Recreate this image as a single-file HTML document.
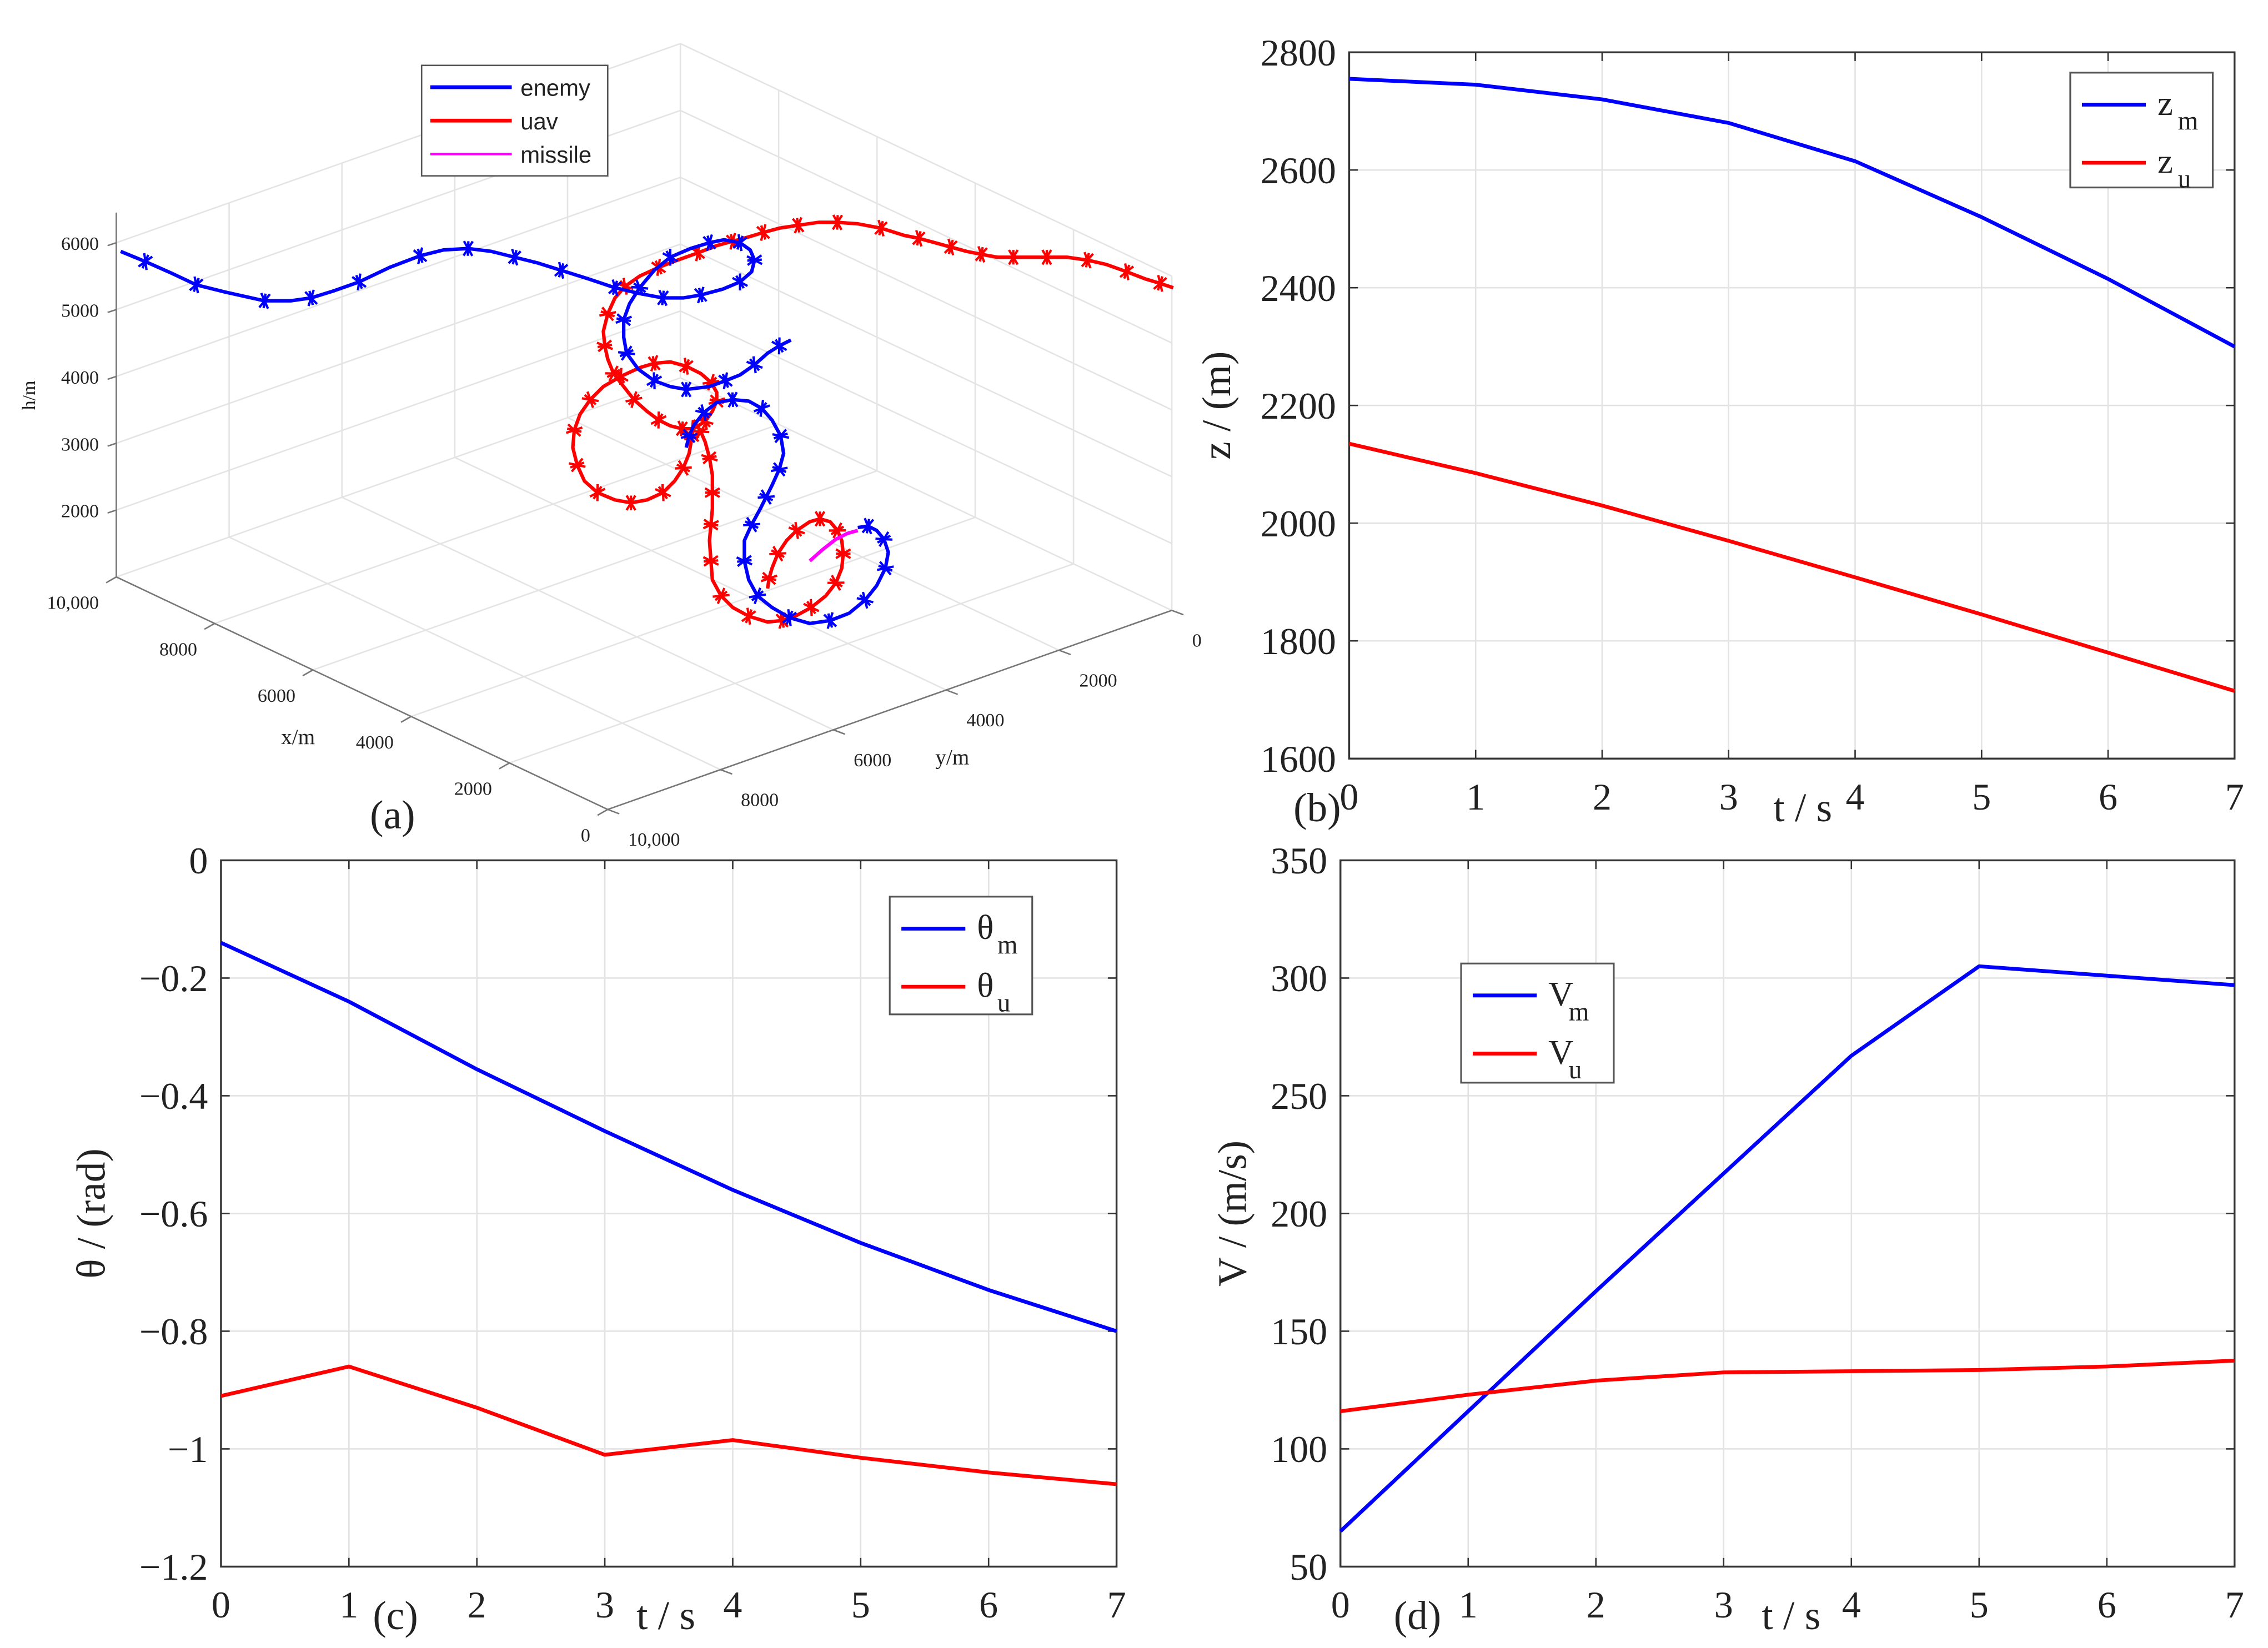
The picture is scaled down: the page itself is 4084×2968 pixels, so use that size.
<!DOCTYPE html>
<html><head><meta charset="utf-8">
<style>
html,body{margin:0;padding:0;background:#fff;}
svg{display:block;}
text{font-family:"Liberation Serif","DejaVu Serif",serif;fill:#222;}
.sans{font-family:"Liberation Sans","DejaVu Sans",sans-serif;}
</style></head>
<body>
<svg id="fig" xmlns="http://www.w3.org/2000/svg" width="4084" height="2968" viewBox="0 0 1560 1134" preserveAspectRatio="none">
<rect x="0" y="0" width="1560" height="1134" fill="#fff"/>
<g id="panelA"></g>
<g id="panelB"></g>
<g id="panelC"></g>
<g id="panelD"></g>
</svg>
<script>
// ---------- 2D chart data ----------
const timeSteps = [0,1,2,3,4,5,6,7];
const zmValues = [2755,2745,2720,2680,2615,2520,2415,2300];
const zuValues = [2135,2085,2030,1970,1908,1845,1780,1715];
const zTicks = [1600,1800,2000,2200,2400,2600,2800];
const thetaMValues = [-0.14,-0.24,-0.355,-0.46,-0.56,-0.65,-0.73,-0.80];
const thetaUValues = [-0.91,-0.86,-0.93,-1.01,-0.985,-1.015,-1.04,-1.06];
const thetaTicks = [-1.2,-1,-0.8,-0.6,-0.4,-0.2,0];
const thetaTickLabels = ["\u22121.2","\u22121","\u22120.8","\u22120.6","\u22120.4","\u22120.2","0"];
const vmValues = [65,116,167,217,267,305,301,297];
const vuValues = [116,123,129,132.5,133,133.5,135,137.5];
const vTicks = [50,100,150,200,250,300,350];
const tTicks = [0,1,2,3,4,5,6,7];

// ---------- 3D panel data (projected view coordinates) ----------
const enemyPathA = [[83,173],[100,180],[118,188],[135,196],[155,201],[182,207],[200,207],[214,205],[230,200],[247,194],[268,184],[289,176],[305,172],[322,171],[338,173],[354,177],[370,181],[386,186],[405,192],[423,198],[440,202],[456,205],[470,205],[482,203],[497,199],[509,194],[517,187],[519,179],[516,172],[509,167],[498,165],[488,167],[475,171],[461,177],[450,186],[440,198],[433,209],[429,220],[429,232],[431,243],[439,254],[450,262],[461,266],[472,268],[488,266],[499,262],[509,258],[519,251],[528,243],[536,238],[544,234]];
const enemyPathB = [[472,308],[474,300],[477,293],[484,284],[493,277],[504,275],[515,276],[524,281],[531,289],[537,300],[539,312],[536,323],[531,334],[527,342],[523,350],[517,361],[512,372],[512,386],[515,399],[521,410],[531,418],[543,425],[557,429],[571,427],[584,422],[595,413],[603,403],[609,391],[611,380],[608,371],[603,365],[597,362],[590,363]];
const uavPathA = [[807,198],[798,195],[788,192],[775,187],[761,182],[748,179],[734,177],[720,177],[708,177],[697,177],[686,177],[675,175],[665,173],[654,170],[643,167],[632,164],[622,162],[606,157],[590,154],[576,153],[563,153],[549,155],[536,157],[525,160],[515,163],[504,166],[493,169],[480,174],[466,179],[453,184],[440,190],[430,197],[423,205],[418,216],[415,228],[416,238],[418,247],[422,257],[429,266],[436,275],[445,283],[453,289],[461,293],[469,295],[477,295],[485,290],[490,283],[493,276],[493,270],[489,263],[482,257],[472,252],[461,249],[450,250],[440,253],[427,259],[415,266],[406,275],[399,285],[395,296],[394,308],[397,320],[402,331],[411,339],[423,344],[434,346],[445,344],[456,339],[464,331],[470,322],[474,312],[476,300],[477,289]];
const uavPathB = [[477,289],[482,297],[485,304],[488,315],[490,327],[490,339],[490,350],[489,361],[488,372],[489,386],[490,399],[496,410],[504,418],[515,424],[528,428],[538,427],[547,424],[558,418],[568,410],[575,401],[579,391],[580,381],[579,372],[576,365],[571,359],[564,357],[557,359],[548,365],[541,372],[535,381],[531,391],[529,398],[528,405]];
const missilePath = [[557,386],[566,378],[575,371],[583,367],[590,365]];
const hTicks = [2000,3000,4000,5000,6000];
const xTicks3 = [0,2000,4000,6000,8000,10000];
const yTicks3 = [0,2000,4000,6000,8000,10000];
const xTickLabels3 = ["0","2000","4000","6000","8000","10,000"];
const yTickLabels3 = ["0","2000","4000","6000","8000","10,000"];

const NS = "http://www.w3.org/2000/svg";
function mk(parent, tag, attrs, txt){
  const e = document.createElementNS(NS, tag);
  for (const k in attrs) e.setAttribute(k, attrs[k]);
  if (txt !== undefined) e.textContent = txt;
  parent.appendChild(e);
  return e;
}

// ---------- 2D panel builder ----------
function panel2D(g, box, xdom, ydom, yticks, ylabels, series, ylab, ylabX, letter, letterX, tsX, legend){
  const sx = v => box.L + (v - xdom[0]) / (xdom[1] - xdom[0]) * (box.R - box.L);
  const sy = v => box.B - (v - ydom[0]) / (ydom[1] - ydom[0]) * (box.B - box.T);
  tTicks.forEach(t => {
    const l = mk(g, 'line', {x1:sx(t), x2:sx(t), y1:box.T, y2:box.B, stroke:'#e3e3e3', 'stroke-width':1});
    
    
  });
  yticks.forEach(v => {
    const l = mk(g, 'line', {x1:box.L, x2:box.R, y1:sy(v), y2:sy(v), stroke:'#e3e3e3', 'stroke-width':1});
    
    
  });
  tTicks.forEach(t => {
    mk(g, 'line', {x1:sx(t), x2:sx(t), y1:box.B, y2:box.B-6, stroke:'#333', 'stroke-width':1});
    mk(g, 'line', {x1:sx(t), x2:sx(t), y1:box.T, y2:box.T+6, stroke:'#333', 'stroke-width':1});
    const tx = mk(g, 'text', {x:sx(t), y:box.B+35, 'font-size':26, 'text-anchor':'middle'}, String(t));
    
    
  });
  yticks.forEach((v, i) => {
    mk(g, 'line', {x1:box.L, x2:box.L+6, y1:sy(v), y2:sy(v), stroke:'#333', 'stroke-width':1});
    mk(g, 'line', {x1:box.R, x2:box.R-6, y1:sy(v), y2:sy(v), stroke:'#333', 'stroke-width':1});
    const tx = mk(g, 'text', {x:box.L-9, y:sy(v)+9, 'font-size':26, 'text-anchor':'end'}, ylabels[i]);
    
    
  });
  const fr = mk(g, 'rect', {x:box.L, y:box.T, width:box.R-box.L, height:box.B-box.T, fill:'none', stroke:'#333', 'stroke-width':1.3});
  
  
  series.forEach(s => {
    const pts = s.vals.map((v, i) => sx(timeSteps[i]) + ',' + sy(v)).join(' ');
    const pl = mk(g, 'polyline', {points:pts, fill:'none', stroke:s.color, 'stroke-width':2.6, 'stroke-linejoin':'round'});
    
    
  });
  const yl = mk(g, 'text', {x:ylabX, y:(box.T+box.B)/2, 'font-size':28, 'text-anchor':'middle', transform:'rotate(-90 '+ylabX+' '+((box.T+box.B)/2)+')'}, ylab);
  
  
  const xl = mk(g, 'text', {x:tsX, y:box.B+43, 'font-size':28, 'text-anchor':'middle'}, 't / s');
  
  
  const pl2 = mk(g, 'text', {x:letterX, y:box.B+43, 'font-size':28, 'text-anchor':'middle'}, letter);
  
  
  const lg = mk(g, 'g', {});
  
  
  mk(lg, 'rect', {x:legend.x, y:legend.y, width:legend.w, height:legend.h, fill:'#fff', stroke:'#555', 'stroke-width':1.2});
  legend.items.forEach((it, i) => {
    const yy = legend.y + 22 + i * 40;
    const en = mk(lg, 'g', {});
    
    
    mk(en, 'line', {x1:legend.x+8, x2:legend.x+52, y1:yy, y2:yy, stroke:it.color, 'stroke-width':2.6});
    mk(en, 'text', {x:legend.x+60, y:yy+7, 'font-size':24}, it.base);
    mk(en, 'text', {x:legend.x+74, y:yy+17, 'font-size':18}, it.sub);
  });
}

panel2D(document.getElementById('panelB'), {L:928,R:1537,T:36,B:522}, [0,7], [1600,2800], zTicks, zTicks.map(String),
  [{vals:zmValues,color:'#0000ff',name:'line-zm'},{vals:zuValues,color:'#ff0000',name:'line-zu'}],
  'z / (m)', 846, '(b)', 906, 1240,
  {x:1424,y:50,w:98,h:79,items:[{color:'#0000ff',base:'z',sub:'m'},{color:'#ff0000',base:'z',sub:'u'}]});

panel2D(document.getElementById('panelC'), {L:152,R:768,T:592,B:1078}, [0,7], [-1.2,0], thetaTicks, thetaTickLabels,
  [{vals:thetaMValues,color:'#0000ff',name:'line-theta-m'},{vals:thetaUValues,color:'#ff0000',name:'line-theta-u'}],
  '\u03b8 / (rad)', 72, '(c)', 272, 458,
  {x:612,y:617,w:98,h:81,items:[{color:'#0000ff',base:'\u03b8',sub:'m'},{color:'#ff0000',base:'\u03b8',sub:'u'}]});

panel2D(document.getElementById('panelD'), {L:922,R:1537,T:592,B:1078}, [0,7], [50,350], vTicks, vTicks.map(String),
  [{vals:vmValues,color:'#0000ff',name:'line-vm'},{vals:vuValues,color:'#ff0000',name:'line-vu'}],
  'V / (m/s)', 857, '(d)', 975, 1232,
  {x:1005,y:663,w:105,h:82,items:[{color:'#0000ff',base:'V',sub:'m'},{color:'#ff0000',base:'V',sub:'u'}]});

// ---------- 3D panel ----------
(function(){
  const g = document.getElementById('panelA');
  const L = [80,397], F = [418,557], R = [806,420];
  const hScale = 0.046;
  function P(x, y, h){
    const a = x/10000, b = (10000 - y)/10000;
    return [F[0] + a*(L[0]-F[0]) + b*(R[0]-F[0]), F[1] + a*(L[1]-F[1]) + b*(R[1]-F[1]) - (h-1000)*hScale];
  }
  const hTop = 6000;
  const gc = '#e4e4e4';
  xTicks3.forEach(x => {
    const a = P(x, 10000, 1000), b = P(x, 0, 1000);
    const l = mk(g, 'line', {x1:a[0], y1:a[1], x2:b[0], y2:b[1], stroke:gc, 'stroke-width':1});
    
    
    const c = P(x, 0, hTop);
    mk(g, 'line', {x1:b[0], y1:b[1], x2:c[0], y2:c[1], stroke:gc, 'stroke-width':1});
  });
  yTicks3.forEach(y => {
    const a = P(0, y, 1000), b = P(10000, y, 1000);
    const l = mk(g, 'line', {x1:a[0], y1:a[1], x2:b[0], y2:b[1], stroke:gc, 'stroke-width':1});
    
    
    const c = P(10000, y, hTop);
    mk(g, 'line', {x1:b[0], y1:b[1], x2:c[0], y2:c[1], stroke:gc, 'stroke-width':1});
  });
  hTicks.forEach(h => {
    const a = P(10000, 10000, h), b = P(10000, 0, h), c = P(0, 0, h);
    const l = mk(g, 'polyline', {points:a.join(',')+' '+b.join(',')+' '+c.join(','), fill:'none', stroke:gc, 'stroke-width':1});
    
    
  });
  const ax = '#777';
  let p0 = P(10000,10000,1000), p1 = P(0,10000,1000), p2 = P(0,0,1000), ptop = P(10000,10000,6450);
  mk(g, 'line', {x1:p0[0], y1:p0[1], x2:p1[0], y2:p1[1], stroke:ax, 'stroke-width':1});
  mk(g, 'line', {x1:p1[0], y1:p1[1], x2:p2[0], y2:p2[1], stroke:ax, 'stroke-width':1});
  mk(g, 'line', {x1:p0[0], y1:p0[1], x2:ptop[0], y2:ptop[1], stroke:ax, 'stroke-width':1});
  hTicks.forEach(h => {
    const p = P(10000,10000,h);
    mk(g, 'line', {x1:p[0], y1:p[1], x2:p[0]-6, y2:p[1]+2, stroke:ax});
    const t = mk(g, 'text', {x:p[0]-12, y:p[1]+5, 'font-size':13, 'text-anchor':'end'}, String(h));
    
    
  });
  xTicks3.forEach((x, i) => {
    const p = P(x, 10000, 1000);
    mk(g, 'line', {x1:p[0], y1:p[1], x2:p[0]-7, y2:p[1]+4, stroke:ax});
    const t = mk(g, 'text', {x:p[0]-12, y:p[1]+22, 'font-size':13, 'text-anchor':'end'}, xTickLabels3[i]);
    
    
  });
  yTicks3.forEach((y, i) => {
    const p = P(0, y, 1000);
    mk(g, 'line', {x1:p[0], y1:p[1], x2:p[0]+8, y2:p[1]+3, stroke:ax});
    const t = mk(g, 'text', {x:p[0]+14, y:p[1]+25, 'font-size':13, 'text-anchor':'start'}, yTickLabels3[i]);
    
    
  });
  let t = mk(g, 'text', {x:24, y:272, 'font-size':13, 'text-anchor':'middle', transform:'rotate(-90 24 272)'}, 'h/m');
  
  
  t = mk(g, 'text', {x:205, y:512, 'font-size':15, 'text-anchor':'middle'}, 'x/m');
  
  
  t = mk(g, 'text', {x:655, y:526, 'font-size':15, 'text-anchor':'middle'}, 'y/m');
  
  
  t = mk(g, 'text', {x:270, y:570, 'font-size':28, 'text-anchor':'middle'}, '(a)');
  
  

  function path(pts, color, name, marks){
    const pl = mk(g, 'polyline', {points:pts.map(p => p.join(',')).join(' '), fill:'none', stroke:color, 'stroke-width':2.4, 'stroke-linejoin':'round'});
    
    
    if (marks){
      for (let i = 1; i < pts.length - 1; i += 2){
        const [x, y] = pts[i];
        const dx = pts[i+1][0] - pts[i-1][0], dy = pts[i+1][1] - pts[i-1][1];
        const n = Math.hypot(dx, dy) || 1;
        const nx = -dy/n*5, ny = dx/n*5, ux = dx/n*3, uy = dy/n*3;
        const m = mk(g, 'path', {d:'M'+(x-nx)+' '+(y-ny)+'L'+(x+nx)+' '+(y+ny)+'M'+(x-nx+ux)+' '+(y-ny+uy)+'L'+(x+nx-ux)+' '+(y+ny-uy)+'M'+(x-nx-ux)+' '+(y-ny-uy)+'L'+(x+nx+ux)+' '+(y+ny+uy), stroke:color, 'stroke-width':1.6, fill:'none'});
        
        
      }
    }
  }
  path(uavPathA, '#ff0000', 'uav-trajectory', true);
  path(uavPathB, '#ff0000', 'uav-trajectory', true);
  path(enemyPathA, '#0000ff', 'enemy-trajectory', true);
  path(enemyPathB, '#0000ff', 'enemy-trajectory', true);
  path(missilePath, '#ff00ff', 'missile-trajectory', false);

  const lg = mk(g, 'g', {});
  
  
  mk(lg, 'rect', {x:290, y:45, width:128, height:76, fill:'#fff', stroke:'#555', 'stroke-width':1});
  [['enemy','#0000ff'],['uav','#ff0000'],['missile','#ff00ff']].forEach((it, i) => {
    const yy = 60 + i*23;
    const en = mk(lg, 'g', {});
    
    
    mk(en, 'line', {x1:296, x2:352, y1:yy, y2:yy, stroke:it[1], 'stroke-width':it[0]==='missile'?1.8:2.6});
    mk(en, 'text', {x:358, y:yy+6, 'font-size':16, class:'sans'}, it[0]);
  });
})();
</script>
</body></html>
